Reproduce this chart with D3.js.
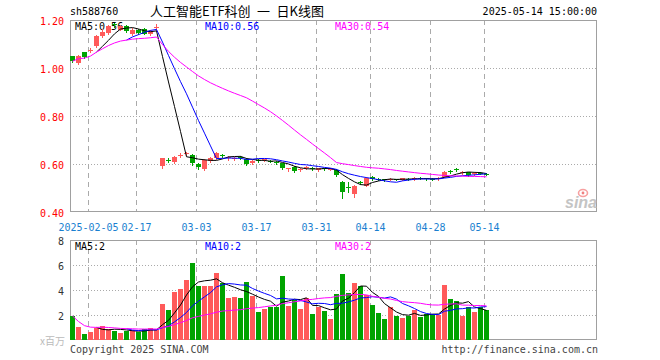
<!DOCTYPE html>
<html><head><meta charset="utf-8">
<script src="https://cdn.jsdelivr.net/npm/d3@7/dist/d3.min.js"></script>
<style>body{margin:0;background:#fff}svg{display:block}</style>
</head><body><svg id="c" width="660" height="360"></svg>
<script>
const dates=["2025-01-23","2025-01-24","2025-01-27","2025-02-05","2025-02-06","2025-02-07","2025-02-10","2025-02-11","2025-02-12","2025-02-13","2025-02-14","2025-02-17","2025-02-18","2025-02-19","2025-02-20","2025-02-21","2025-02-24","2025-02-25","2025-02-26","2025-02-27","2025-02-28","2025-03-03","2025-03-04","2025-03-05","2025-03-06","2025-03-07","2025-03-10","2025-03-11","2025-03-12","2025-03-13","2025-03-14","2025-03-17","2025-03-18","2025-03-19","2025-03-20","2025-03-21","2025-03-24","2025-03-25","2025-03-26","2025-03-27","2025-03-28","2025-03-31","2025-04-01","2025-04-02","2025-04-03","2025-04-07","2025-04-08","2025-04-09","2025-04-10","2025-04-11","2025-04-14","2025-04-15","2025-04-16","2025-04-17","2025-04-18","2025-04-21","2025-04-22","2025-04-23","2025-04-24","2025-04-25","2025-04-28","2025-04-29","2025-04-30","2025-05-06","2025-05-07","2025-05-08","2025-05-09","2025-05-12","2025-05-13","2025-05-14"];
const open =[1.049,1.022,1.065,1.072,1.090,1.133,1.146,1.183,1.160,1.175,1.140,1.158,1.162,1.142,1.168,0.593,0.618,0.607,0.633,0.642,0.638,0.600,0.579,0.612,0.626,0.636,0.627,0.623,0.629,0.621,0.603,0.616,0.617,0.613,0.608,0.603,0.581,0.589,0.577,0.584,0.585,0.575,0.582,0.578,0.575,0.524,0.506,0.474,0.525,0.510,0.546,0.537,0.536,0.536,0.536,0.535,0.539,0.538,0.541,0.540,0.539,0.537,0.547,0.569,0.579,0.564,0.565,0.559,0.564,0.560];
const high =[1.052,1.053,1.068,1.082,1.138,1.162,1.178,1.188,1.180,1.178,1.165,1.162,1.166,1.158,1.182,0.626,0.624,0.633,0.645,0.652,0.640,0.605,0.620,0.628,0.648,0.642,0.632,0.630,0.634,0.624,0.617,0.620,0.622,0.616,0.612,0.605,0.585,0.592,0.582,0.590,0.588,0.585,0.585,0.583,0.578,0.528,0.524,0.512,0.530,0.546,0.550,0.540,0.538,0.542,0.538,0.542,0.542,0.544,0.544,0.542,0.542,0.544,0.570,0.574,0.584,0.570,0.568,0.565,0.568,0.564];
const low  =[1.025,1.018,1.043,1.066,1.088,1.130,1.143,1.172,1.157,1.150,1.137,1.140,1.140,1.138,1.160,0.585,0.610,0.603,0.628,0.636,0.595,0.580,0.575,0.610,0.622,0.628,0.618,0.618,0.622,0.596,0.600,0.610,0.612,0.607,0.602,0.578,0.572,0.568,0.570,0.580,0.575,0.572,0.576,0.575,0.550,0.460,0.482,0.462,0.518,0.508,0.535,0.532,0.530,0.532,0.532,0.533,0.535,0.534,0.536,0.535,0.534,0.532,0.545,0.562,0.572,0.560,0.552,0.556,0.558,0.554];
const close=[1.028,1.050,1.046,1.075,1.132,1.150,1.174,1.180,1.175,1.153,1.160,1.145,1.142,1.155,1.172,0.624,0.616,0.630,0.636,0.645,0.603,0.587,0.617,0.624,0.644,0.634,0.629,0.625,0.627,0.600,0.614,0.614,0.619,0.611,0.606,0.582,0.583,0.571,0.579,0.586,0.578,0.582,0.580,0.580,0.554,0.482,0.504,0.508,0.523,0.543,0.537,0.535,0.534,0.538,0.535,0.540,0.538,0.540,0.540,0.538,0.537,0.540,0.568,0.567,0.577,0.566,0.555,0.561,0.562,0.557];
const volume=[1.92,1.04,0.48,0.67,0.93,1.12,0.85,0.75,0.59,0.72,0.80,0.67,0.85,0.93,0.80,2.88,2.40,3.84,4.08,4.80,6.16,4.32,4.32,4.32,5.36,4.59,3.36,3.44,3.36,4.64,3.52,2.24,2.48,2.64,2.64,5.12,2.72,3.20,2.48,3.36,2.08,2.64,2.32,1.68,3.68,5.28,3.76,4.56,4.32,3.60,2.80,2.16,1.68,2.64,1.92,1.76,1.92,2.40,1.84,2.08,2.08,2.00,4.40,3.28,3.12,1.92,2.64,2.24,2.64,2.40];
const priceTicks=[1.20,1.00,0.80,0.60,0.40];
const volTicks=[8,6,4,2];
const tickDates=["2025-02-05","2025-02-17","2025-03-03","2025-03-17","2025-03-31","2025-04-14","2025-04-28","2025-05-14"];
const tickLabels=["2025-02-05","02-17","03-03","03-17","03-31","04-14","04-28","05-14"];
const priceLegend=["MA5:0.56","MA10:0.56","MA30:0.54"];
const volLegend=["MA5:2","MA10:2","MA30:2"];
const maColors=["#000000","#0000ff","#ff00ff"];

const RED="#ff5a5a", GREEN="#00a300", GRID="#aaaaaa", BORDER="#a0a0a0";
const MONO="'DejaVu Sans Mono', monospace";
const svg=d3.select("#c");
const L=70,R=597,PT=20,PB=212,VT=240,VB=340;

const x=d3.scaleBand().domain(dates).range([70,489]).paddingInner(1/6).paddingOuter(0);
const y=d3.scaleLinear().domain([0.4,1.2]).range([PB,PT]);
const yv=d3.scaleLinear().domain([0,8]).range([VB,VT]);

function ma(arr,n,expanding){return arr.map((v,i)=>{if(i<n-1){if(!expanding)return null;return d3.mean(arr.slice(0,i+1));}return d3.mean(arr.slice(i-n+1,i+1));});}
const cx=i=>x(dates[i])+2.5;

// header texts
svg.append("text").attr("x",70).attr("y",15).attr("font-family",MONO).attr("font-size",10).attr("fill","#000").text("sh588760");
svg.append("text").attr("x",150).attr("y",16).attr("font-family","'Noto Sans CJK SC','Noto Sans',sans-serif").attr("font-size",13).attr("fill","#000").style("white-space","pre").text("人工智能ETF科创\u2002一\u2002日K线图");
svg.append("text").attr("x",597).attr("y",15).attr("text-anchor","end").attr("font-family",MONO).attr("font-size",10).attr("fill","#000").text("2025-05-14 15:00:00");

function panel(top,bottom,hTicks,ys){
  const g=svg.append("g");
  hTicks.forEach(t=>{const yy=Math.round(ys(t))+0.5;
    g.append("line").attr("x1",L).attr("x2",R).attr("y1",yy).attr("y2",yy).attr("stroke",GRID).attr("stroke-dasharray","1,2");});
  tickDates.forEach(d=>{const xx=Math.round(x(d))+0.5;
    g.append("line").attr("x1",xx).attr("x2",xx).attr("y1",top).attr("y2",bottom).attr("stroke",GRID).attr("stroke-dasharray","5,4");});
  g.append("rect").attr("x",L+0.5).attr("y",top+0.5).attr("width",R-L-1).attr("height",bottom-top-1).attr("fill","none").attr("stroke",BORDER);
}
panel(PT,PB,[1.0,0.8,0.6],y);
panel(VT,VB,[6,4,2],yv);

// y labels
svg.append("g").selectAll("text").data(priceTicks).join("text")
  .attr("x",64).attr("y",d=>y(d)+5).attr("text-anchor","end").attr("font-family",MONO).attr("font-size",10).attr("fill","#ff0000").text(d=>d.toFixed(2));
svg.append("g").selectAll("text").data(volTicks).join("text")
  .attr("x",64).attr("y",d=>yv(d)+5).attr("text-anchor","end").attr("font-family",MONO).attr("font-size",10).attr("fill","#333").text(d=>d);
svg.append("text").attr("x",65).attr("y",345).attr("text-anchor","end").attr("font-family","'Noto Sans CJK SC',sans-serif").attr("font-size",10).attr("fill","#bbb").text("x百万");

// x labels
svg.append("g").selectAll("text").data(tickDates).join("text")
  .attr("x",d=>Math.round(x(d))+0.5).attr("y",231).attr("text-anchor","middle").attr("font-family",MONO).attr("font-size",10).attr("fill","#1a7fd0").text((d,i)=>tickLabels[i]);

// legends
const lgx=[75,205,335];
priceLegend.forEach((t,i)=>svg.append("text").attr("x",lgx[i]).attr("y",30).attr("font-family",MONO).attr("font-size",10).attr("fill",maColors[i]).text(t));
volLegend.forEach((t,i)=>svg.append("text").attr("x",lgx[i]).attr("y",250).attr("font-family",MONO).attr("font-size",10).attr("fill",maColors[i]).text(t));

// sina logo
const lg=svg.append("g");
lg.append("text").attr("x",581).attr("y",208).attr("text-anchor","middle").attr("font-family","'Liberation Sans',Arial,sans-serif").attr("font-style","italic").attr("font-weight","bold").attr("font-size",16).attr("fill","#c4c4c4").text("sina");
lg.append("ellipse").attr("cx",583).attr("cy",193).attr("rx",4.5).attr("ry",3.5).attr("fill","none").attr("stroke","#f7a0a0").attr("stroke-width",1.6);
lg.append("circle").attr("cx",583).attr("cy",193).attr("r",1.4).attr("fill","#f08080");

// candles
const idx=d3.range(dates.length);
const col=i=>close[i]>=open[i]?RED:GREEN;
const cg=svg.append("g").attr("shape-rendering","crispEdges");
cg.selectAll("line.w").data(idx).join("line").attr("class","w")
  .attr("x1",i=>x(dates[i])+2.5).attr("x2",i=>x(dates[i])+2.5)
  .attr("y1",i=>Math.round(y(high[i]))).attr("y2",i=>Math.round(y(low[i]))+1).attr("stroke",col);
cg.selectAll("rect.b").data(idx).join("rect").attr("class","b")
  .attr("x",i=>x(dates[i])).attr("width",x.bandwidth())
  .attr("y",i=>Math.round(y(Math.max(open[i],close[i]))))
  .attr("height",i=>Math.max(1,Math.round(y(Math.min(open[i],close[i])))-Math.round(y(Math.max(open[i],close[i])))))
  .attr("fill",col);

// volume bars
svg.append("g").attr("shape-rendering","crispEdges").selectAll("rect").data(idx).join("rect")
  .attr("x",i=>x(dates[i])).attr("width",x.bandwidth())
  .attr("y",i=>Math.round(yv(volume[i]))).attr("height",i=>VB-Math.round(yv(volume[i])))
  .attr("fill",col);

// MA lines
function drawMA(arr,ys){
  [[5,false],[10,false],[30,true]].forEach(([n,e],k)=>{
    const m=ma(arr,n,e);
    const line=d3.line().defined(d=>d!=null).x((d,i)=>cx(i)).y(d=>ys(d));
    svg.append("path").datum(m).attr("d",line).attr("fill","none").attr("stroke",maColors[k]).attr("stroke-width",1);
  });
}
drawMA(close,y);
drawMA(volume,yv);

// footer
svg.append("text").attr("x",70).attr("y",353).attr("font-family",MONO).attr("font-size",10).attr("fill","#444").text("Copyright 2025 SINA.COM");
svg.append("text").attr("x",598).attr("y",353).attr("text-anchor","end").attr("font-family",MONO).attr("font-size",10).attr("fill","#444").text("http://finance.sina.com.cn");
</script></body></html>
